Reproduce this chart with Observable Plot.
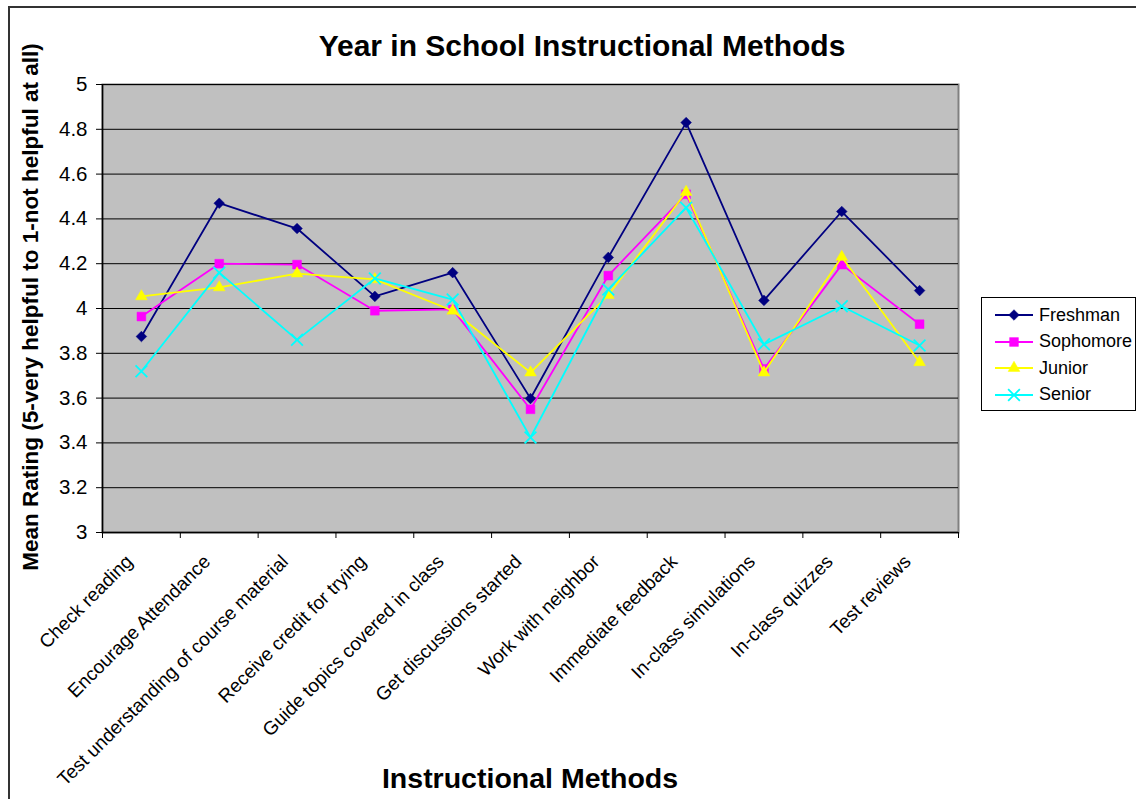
<!DOCTYPE html>
<html>
<head>
<meta charset="utf-8">
<script src="https://cdn.jsdelivr.net/npm/d3@7"></script>
<script src="https://cdn.jsdelivr.net/npm/@observablehq/plot@0.6"></script>
<style>
  html, body { margin: 0; padding: 0; background: #fff; }
  body { width: 1136px; height: 799px; overflow: hidden; font-family: "Liberation Sans", Arial, sans-serif; }
  #wrap { position: relative; width: 1136px; height: 799px; }
  #border { position: absolute; left: 8px; top: 6px; width: 1200px; height: 900px; border: 2px solid #333; box-sizing: border-box; }
  #chart { position: absolute; left: 0; top: 0; }
  .title { position: absolute; font-weight: bold; color: #000; white-space: nowrap; line-height: 1; }
  #title { left: 582px; top: 31px; transform: translateX(-50%); font-size: 30px; }
  #xtitle { left: 530px; top: 764px; transform: translateX(-50%); font-size: 28.5px; }
  #ytitle { left: 31px; top: 307px; transform: translate(-50%, -50%) rotate(-90deg); font-size: 22.5px; }
  #legend { position: absolute; left: 981px; top: 297px; width: 155px; height: 114px; border: 1px solid #000; box-sizing: border-box; background: #fff; padding-top: 4px; }
  .item { display: flex; align-items: center; height: 26.5px; font-size: 18px; }
  .item svg { margin-left: 12px; margin-right: 5px; }
</style>
</head>
<body>
<div id="wrap">
  <div id="border"></div>
  <div id="chart"></div>
  <div class="title" id="title">Year in School Instructional Methods</div>
  <div class="title" id="ytitle">Mean Rating (5-very helpful to 1-not helpful at all)</div>
  <div class="title" id="xtitle">Instructional Methods</div>
  <div id="legend"></div>
</div>
<script>
const categories = [
  "Check reading",
  "Encourage Attendance",
  "Test understanding of course material",
  "Receive credit for trying",
  "Guide topics covered in class",
  "Get discussions started",
  "Work with neighbor",
  "Immediate feedback",
  "In-class simulations",
  "In-class quizzes",
  "Test reviews"
];
const seriesNames = ["Freshman", "Sophomore", "Junior", "Senior"];
const freshman  = [3.875, 4.47, 4.357, 4.054, 4.16, 3.598, 4.228, 4.83, 4.036, 4.433, 4.08];
const sophomore = [3.964, 4.20, 4.196, 3.99, 3.996, 3.55, 4.147, 4.51, 3.73, 4.196, 3.93];
const junior    = [4.054, 4.094, 4.156, 4.13, 3.99, 3.714, 4.06, 4.52, 3.714, 4.23, 3.76];
const senior    = [3.72, 4.16, 3.86, 4.134, 4.04, 3.424, 4.085, 4.45, 3.84, 4.01, 3.835];
const yTicks = [3, 3.2, 3.4, 3.6, 3.8, 4, 4.2, 4.4, 4.6, 4.8, 5];

const seriesValues = [freshman, sophomore, junior, senior];
const colors  = ["#000080", "#ff00ff", "#ffff00", "#00ffff"];
const symbols = ["diamond2", "square2", "triangle2", "times"];
const radii   = [4.8, 5.6, 5.6, 5.4];

const rows = seriesNames.map((s, k) =>
  seriesValues[k].map((v, i) => ({series: s, idx: i, category: categories[i], value: v}))
);

const fontFamily = "'Liberation Sans', Arial, sans-serif";
const seriesMarks = [];
rows.forEach((data, k) => {
  seriesMarks.push(Plot.line(data, {x: d => d.idx + 0.5, y: "value", stroke: colors[k], strokeWidth: 1.8}));
  const filled = symbols[k] !== "times";
  seriesMarks.push(Plot.dot(data, {
    x: d => d.idx + 0.5, y: "value", symbol: symbols[k], r: radii[k],
    fill: filled ? colors[k] : "none", stroke: colors[k], strokeWidth: filled ? 0.5 : 1.8
  }));
});

const plot = Plot.plot({
  width: 1136,
  height: 799,
  marginLeft: 102,
  marginRight: 178,
  marginTop: 84,
  marginBottom: 267,
  style: {fontFamily, background: "transparent", overflow: "visible", color: "#000"},
  x: {domain: [0, categories.length], axis: null},
  y: {domain: [3, 5], axis: null},
  marks: [
    Plot.frame({fill: "#c0c0c0", stroke: "#808080", strokeWidth: 2}),
    Plot.gridY(yTicks, {stroke: "#000", strokeOpacity: 1, strokeWidth: 1}),
    Plot.axisY(yTicks, {tickSize: 6, tickPadding: 9, fontSize: 20.5, tickFormat: d => String(+d.toFixed(1)), label: null, stroke: "#000"}),
    Plot.axisX(d3.range(categories.length + 1), {tickSize: 6, tickFormat: () => "", label: null, stroke: "#000"}),
    Plot.axisX(d3.range(categories.length).map(i => i + 0.5), {
      tickSize: 0, tickPadding: 10, tickRotate: -45, fontSize: 19, dx: -12, dy: 16,
      tickFormat: v => categories[Math.round(v - 0.5)], label: null
    }),
    Plot.ruleY([3], {stroke: "#000", strokeWidth: 1.5}),
    Plot.ruleX([0], {stroke: "#000", strokeWidth: 1.5}),
    ...seriesMarks
  ]
});
document.getElementById("chart").appendChild(plot);

// Legend
const legend = document.getElementById("legend");
seriesNames.forEach((s, k) => {
  const item = document.createElement("div");
  item.className = "item";
  const sym = d3.symbol(
    {diamond2: d3.symbolDiamond2, square2: d3.symbolSquare2, triangle2: d3.symbolTriangle2, times: d3.symbolTimes}[symbols[k]],
    radii[k] * radii[k] * Math.PI
  )();
  const filled = symbols[k] !== "times";
  item.innerHTML = `<svg width="40" height="14" viewBox="0 0 40 14">
    <line x1="1" x2="39" y1="7" y2="7" stroke="${colors[k]}" stroke-width="1.8"/>
    <path d="${sym}" transform="translate(20,7)" fill="${filled ? colors[k] : "none"}" stroke="${colors[k]}" stroke-width="${filled ? 0.5 : 1.8}"/>
  </svg><span>${s}</span>`;
  legend.appendChild(item);
});
</script>
</body>
</html>
